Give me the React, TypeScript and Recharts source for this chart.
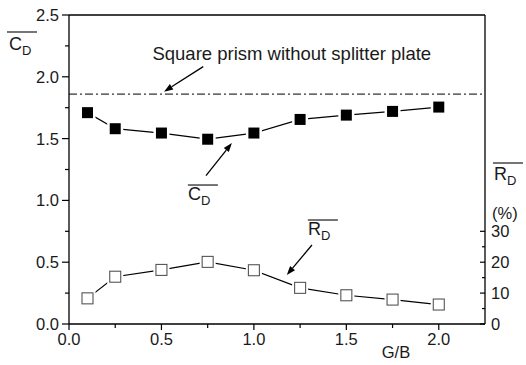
import { ComposedChart, Line, XAxis, YAxis, ReferenceLine, ReferenceDot } from 'recharts';

// G/B spacing ratios and the two measured quantities
const gapRatios = [0.1, 0.25, 0.5, 0.75, 1.0, 1.25, 1.5, 1.75, 2.0];
const dragCoef = [1.71, 1.58, 1.545, 1.495, 1.545, 1.655, 1.69, 1.72, 1.755];
const dragReduction = [8.3, 15.3, 17.5, 20.1, 17.4, 11.7, 9.3, 7.9, 6.3];
const noPlateCd = 1.86;

const xTicks = [0, 0.25, 0.5, 0.75, 1.0, 1.25, 1.5, 1.75, 2.0];
const cdTicks = [0, 0.25, 0.5, 0.75, 1.0, 1.25, 1.5, 1.75, 2.0, 2.25, 2.5];
const rdTicks = [0, 5, 10, 15, 20, 25, 30];

const data = gapRatios.map((g, i) => ({ g, cd: dragCoef[i], rd: dragReduction[i] }));

const font = 'Arial, "Liberation Sans", sans-serif';
const ink = '#1a1a1a';

const isHalf = (v: number) => Math.abs(v * 2 - Math.round(v * 2)) < 1e-6;

function BottomTick({ x, y, payload }: any) {
  const major = isHalf(payload.value);
  return (
    <g>
      <line x1={x} x2={x} y1={y} y2={y + (major ? 6 : 4)} stroke="#000" strokeWidth={1.2} />
      {major && (
        <text x={x} y={y + 9} dy="0.71em" textAnchor="middle" fontSize={16.5} fontFamily={font} fill={ink}>
          {payload.value.toFixed(1)}
        </text>
      )}
    </g>
  );
}

function LeftTick({ x, y, payload }: any) {
  const major = isHalf(payload.value);
  return (
    <g>
      <line x1={x - (major ? 7 : 4)} x2={x} y1={y} y2={y} stroke="#000" strokeWidth={1.2} />
      {major && (
        <text x={x - 10} y={y} dy="0.36em" textAnchor="end" fontSize={16.5} fontFamily={font} fill={ink}>
          {payload.value.toFixed(1)}
        </text>
      )}
    </g>
  );
}

function RightTick({ x, y, payload }: any) {
  const major = payload.value % 10 === 0;
  return (
    <g>
      <line x1={x - (major ? 5 : 3)} x2={x} y1={y} y2={y} stroke="#000" strokeWidth={1.2} />
      {major && (
        <text x={x + 6} y={y} dy="0.36em" textAnchor="start" fontSize={16.5} fontFamily={font} fill={ink}>
          {payload.value}
        </text>
      )}
    </g>
  );
}

const filledSquare = (p: any) => (
  <g key={`cd-${p.index}`}>
    <rect x={p.cx - 8} y={p.cy - 8} width={16} height={16} fill="#fff" />
    <rect x={p.cx - 5.5} y={p.cy - 5.5} width={11} height={11} fill="#000" />
  </g>
);

const openSquare = (p: any) => (
  <g key={`rd-${p.index}`}>
    <rect x={p.cx - 8} y={p.cy - 8} width={16} height={16} fill="#fff" />
    <rect x={p.cx - 5.5} y={p.cy - 5.5} width={11} height={11} fill="#fff" stroke="#555" strokeWidth={1.1} />
  </g>
);

function Arrow({ x1, y1, x2, y2 }: any) {
  const a = Math.atan2(y2 - y1, x2 - x1);
  const L = 9;
  const W = 3.2;
  const bx = x2 - L * Math.cos(a);
  const by = y2 - L * Math.sin(a);
  const pts = `${x2},${y2} ${bx - W * Math.sin(a)},${by + W * Math.cos(a)} ${bx + W * Math.sin(a)},${by - W * Math.cos(a)}`;
  return (
    <g>
      <line x1={x1} y1={y1} x2={bx} y2={by} stroke="#000" strokeWidth={1.3} />
      <polygon points={pts} fill="#000" />
    </g>
  );
}

// text with overline and subscript, anchored at its start/baseline
const barLabel = (main: string, sub: string, width: number) => (p: any) => (
  <g>
    <line x1={p.cx} x2={p.cx + width} y1={p.cy - 15} y2={p.cy - 15} stroke={ink} strokeWidth={1.2} />
    <text x={p.cx} y={p.cy} fontSize={18} fontFamily={font} fill={ink}>
      {main}
      <tspan fontSize={13} dy={5}>{sub}</tspan>
    </text>
  </g>
);

const noteText = (p: any) => (
  <text x={p.cx} y={p.cy} textAnchor="middle" dominantBaseline="central" fontSize={18.5} fontFamily={font} fill={ink}>
    Square prism without splitter plate
  </text>
);

export default function App() {
  return (
    <div style={{ position: 'relative', width: 526, height: 365, background: '#fff' }}>
      <style>{'body{margin:0}'}</style>
      <ComposedChart width={526} height={365} data={data} margin={{ top: 15, right: 0, bottom: 0, left: 0 }}>
        <XAxis
          dataKey="g"
          type="number"
          domain={[0, 2.25]}
          ticks={xTicks}
          interval={0}
          height={41}
          tickSize={0}
          tickMargin={0}
          tickLine={false}
          axisLine={{ stroke: '#000', strokeWidth: 1.3 }}
          tick={BottomTick}
        />
        <YAxis
          yAxisId="left"
          domain={[0, 2.5]}
          ticks={cdTicks}
          interval={0}
          width={69}
          tickSize={0}
          tickMargin={0}
          tickLine={false}
          axisLine={{ stroke: '#000', strokeWidth: 1.3 }}
          tick={LeftTick}
        />
        <YAxis
          yAxisId="right"
          orientation="right"
          domain={[0, 100]}
          ticks={rdTicks}
          interval={0}
          width={41}
          tickSize={0}
          tickMargin={0}
          tickLine={false}
          axisLine={{ stroke: '#000', strokeWidth: 1.3 }}
          tick={RightTick}
        />
        <ReferenceLine yAxisId="left" y={2.5} stroke="#000" strokeWidth={1.3} />
        <ReferenceLine yAxisId="left" y={noPlateCd} stroke="#000" strokeWidth={1} strokeDasharray="8 3 2 3" />

        <ReferenceLine yAxisId="left" segment={[{ x: 0.726, y: 2.082 }, { x: 0.514, y: 1.88 }]} shape={Arrow} />
        <ReferenceLine yAxisId="left" segment={[{ x: 0.741, y: 1.2 }, { x: 0.881, y: 1.464 }]} shape={Arrow} />
        <ReferenceLine yAxisId="left" segment={[{ x: 1.314, y: 0.639 }, { x: 1.178, y: 0.396 }]} shape={Arrow} />

        <ReferenceDot yAxisId="left" x={1.205} y={2.19} r={1} shape={noteText} />
        <ReferenceDot yAxisId="left" x={0.643} y={1.003} r={1} shape={barLabel('C', 'D', 30)} />
        <ReferenceDot yAxisId="left" x={1.292} y={0.72} r={1} shape={barLabel('R', 'D', 30)} />

        <Line
          yAxisId="left"
          dataKey="cd"
          stroke="#000"
          strokeWidth={1.2}
          dot={filledSquare}
          activeDot={false}
          isAnimationActive={false}
        />
        <Line
          yAxisId="right"
          dataKey="rd"
          stroke="#000"
          strokeWidth={1.2}
          dot={openSquare}
          activeDot={false}
          isAnimationActive={false}
        />
      </ComposedChart>

      {/* axis titles */}
      <svg width={526} height={365} style={{ position: 'absolute', left: 0, top: 0, pointerEvents: 'none' }}>
        <line x1={7} x2={37} y1={32} y2={32} stroke={ink} strokeWidth={1.2} />
        <text x={9} y={50} fontSize={18} fontFamily={font} fill={ink}>
          C<tspan fontSize={13} dy={5}>D</tspan>
        </text>
        <line x1={493} x2={523} y1={163} y2={163} stroke={ink} strokeWidth={1.2} />
        <text x={494} y={180} fontSize={18} fontFamily={font} fill={ink}>
          R<tspan fontSize={13} dy={5}>D</tspan>
        </text>
        <text x={492} y={219} fontSize={16.5} fontFamily={font} fill={ink}>(%)</text>
        <text x={396} y={358} textAnchor="middle" fontSize={16.5} fontFamily={font} fill={ink}>G/B</text>
      </svg>
    </div>
  );
}
